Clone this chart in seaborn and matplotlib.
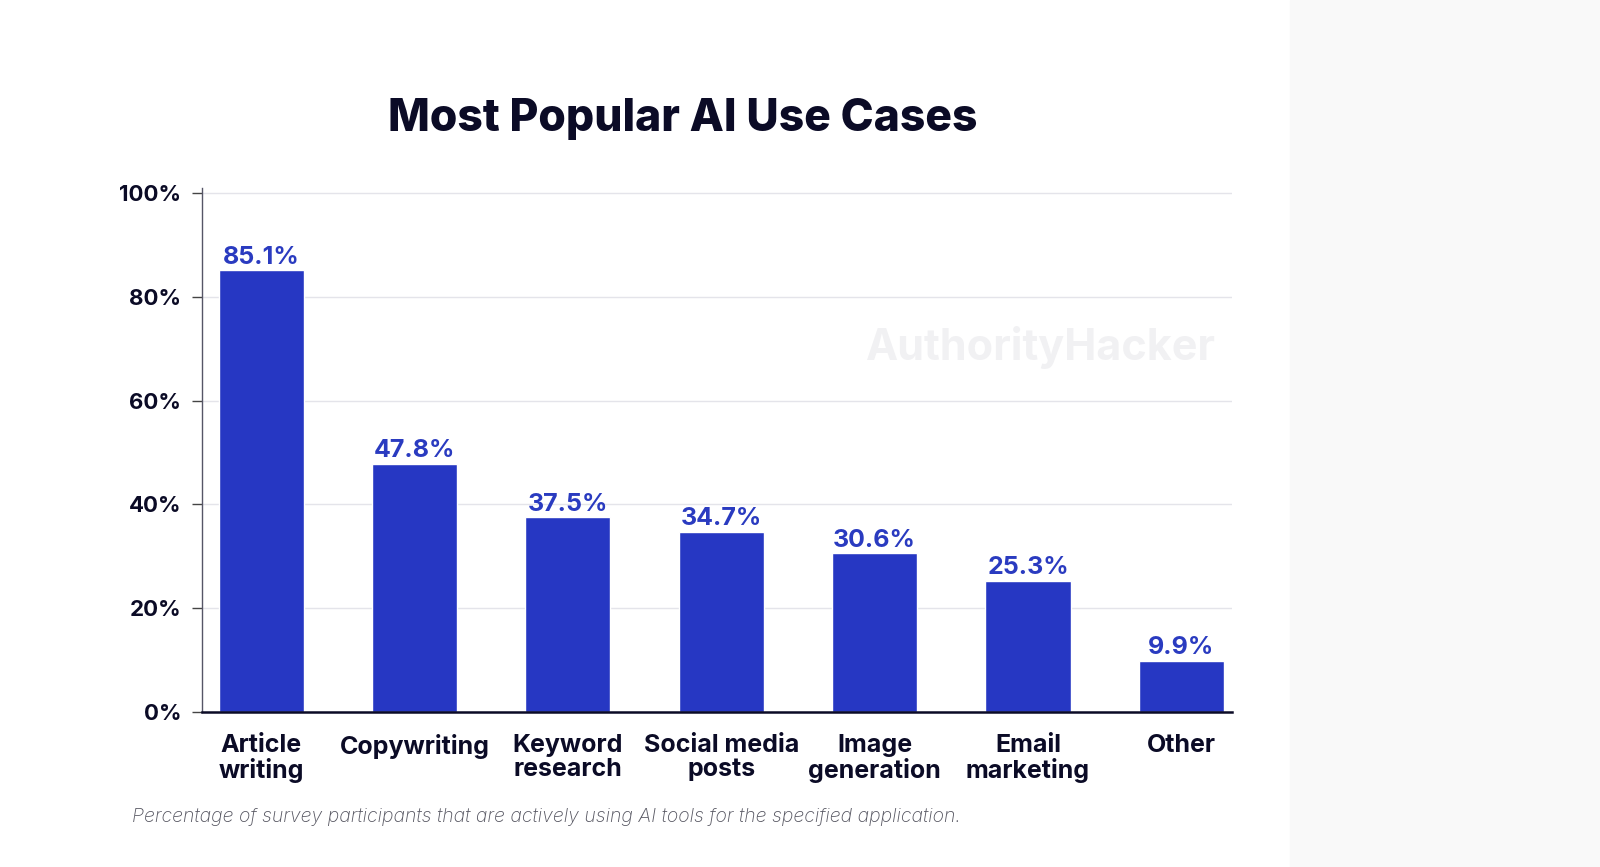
import matplotlib
matplotlib.use("Agg")
import matplotlib.pyplot as plt
import matplotlib.patches as mpatches
import pandas as pd
import seaborn as sns

# ====== DATA ======
CATEGORIES = ["Article\nwriting", "Copywriting", "Keyword\nresearch", "Social media\nposts",
              "Image\ngeneration", "Email\nmarketing", "Other"]
VALUES = [85.1, 47.8, 37.5, 34.7, 30.6, 25.3, 9.9]
Y_TICKS = [0, 20, 40, 60, 80, 100]
TITLE = "Most Popular AI Use Cases"
FOOTNOTE = "Percentage of survey participants that are actively using AI tools for the specified application."
WATERMARK = "AuthorityHacker"
# ==================

BAR_COLOR = "#2637c3"
TEXT_DARK = "#0b0b26"
FONT = "Inter"

sns.set_theme(style="white")
plt.rcParams["font.family"] = [FONT, "DejaVu Sans"]

df = pd.DataFrame({"use_case": CATEGORIES, "share": VALUES})

fig = plt.figure(figsize=(16, 8.67), dpi=100)
fig.patch.set_facecolor("white")

# light grey panel on the right
fig.add_artist(mpatches.Rectangle((1290 / 1600, 0), 1 - 1290 / 1600, 1,
                                  transform=fig.transFigure, color="#f9f9f9", zorder=0))

ax = fig.add_axes([0.12625, 0.1788, 0.64375, 0.6046])
ax.set_facecolor("none")

sns.barplot(data=df, x="use_case", y="share", color=BAR_COLOR, width=0.555,
            saturation=1, ax=ax, zorder=3)

ax.set_xlim(-0.386, 6.33)
ax.set_ylim(0, 101)
ax.set_yticks(Y_TICKS)
ax.set_yticklabels([f"{t}%" for t in Y_TICKS], fontsize=16, fontweight="bold", color=TEXT_DARK)
ax.set_xticks(range(len(CATEGORIES)))
ax.set_xticklabels(CATEGORIES, fontsize=18, fontweight="bold", color=TEXT_DARK, linespacing=1.05)
ax.tick_params(axis="x", length=0, pad=16)
ax.tick_params(axis="y", length=7, width=1, color="#444", pad=8, left=True)
ax.set_xlabel("")
ax.set_ylabel("")

ax.grid(axis="y", color="#e4e4ea", linewidth=1, zorder=0)
for s in ["top", "right"]:
    ax.spines[s].set_visible(False)
ax.spines["left"].set_color("#555566")
ax.spines["left"].set_linewidth(1)
ax.spines["bottom"].set_color(TEXT_DARK)
ax.spines["bottom"].set_linewidth(1.8)
ax.spines["bottom"].set_zorder(4)

for i, v in enumerate(VALUES):
    ax.text(i, v + 0.3, f"{v}%", ha="center", va="bottom", fontsize=18,
            fontweight="bold", color="#2a3bc0", zorder=5)

ax.text(0.984, 0.696, WATERMARK, transform=ax.transAxes, ha="right", va="center",
        fontsize=31, fontweight="bold", color="#f1f1f3", zorder=1)

fig.text(683 / 1600, 1 - 119 / 867, TITLE, ha="center", va="center",
         fontsize=32, fontweight="heavy", color=TEXT_DARK)
fig.text(132 / 1600, 1 - 817 / 867, FOOTNOTE, ha="left", va="center",
         fontsize=14, fontstyle="italic", fontweight="light", color="#555560")

fig.savefig("out.png", dpi=100, facecolor=fig.get_facecolor())
